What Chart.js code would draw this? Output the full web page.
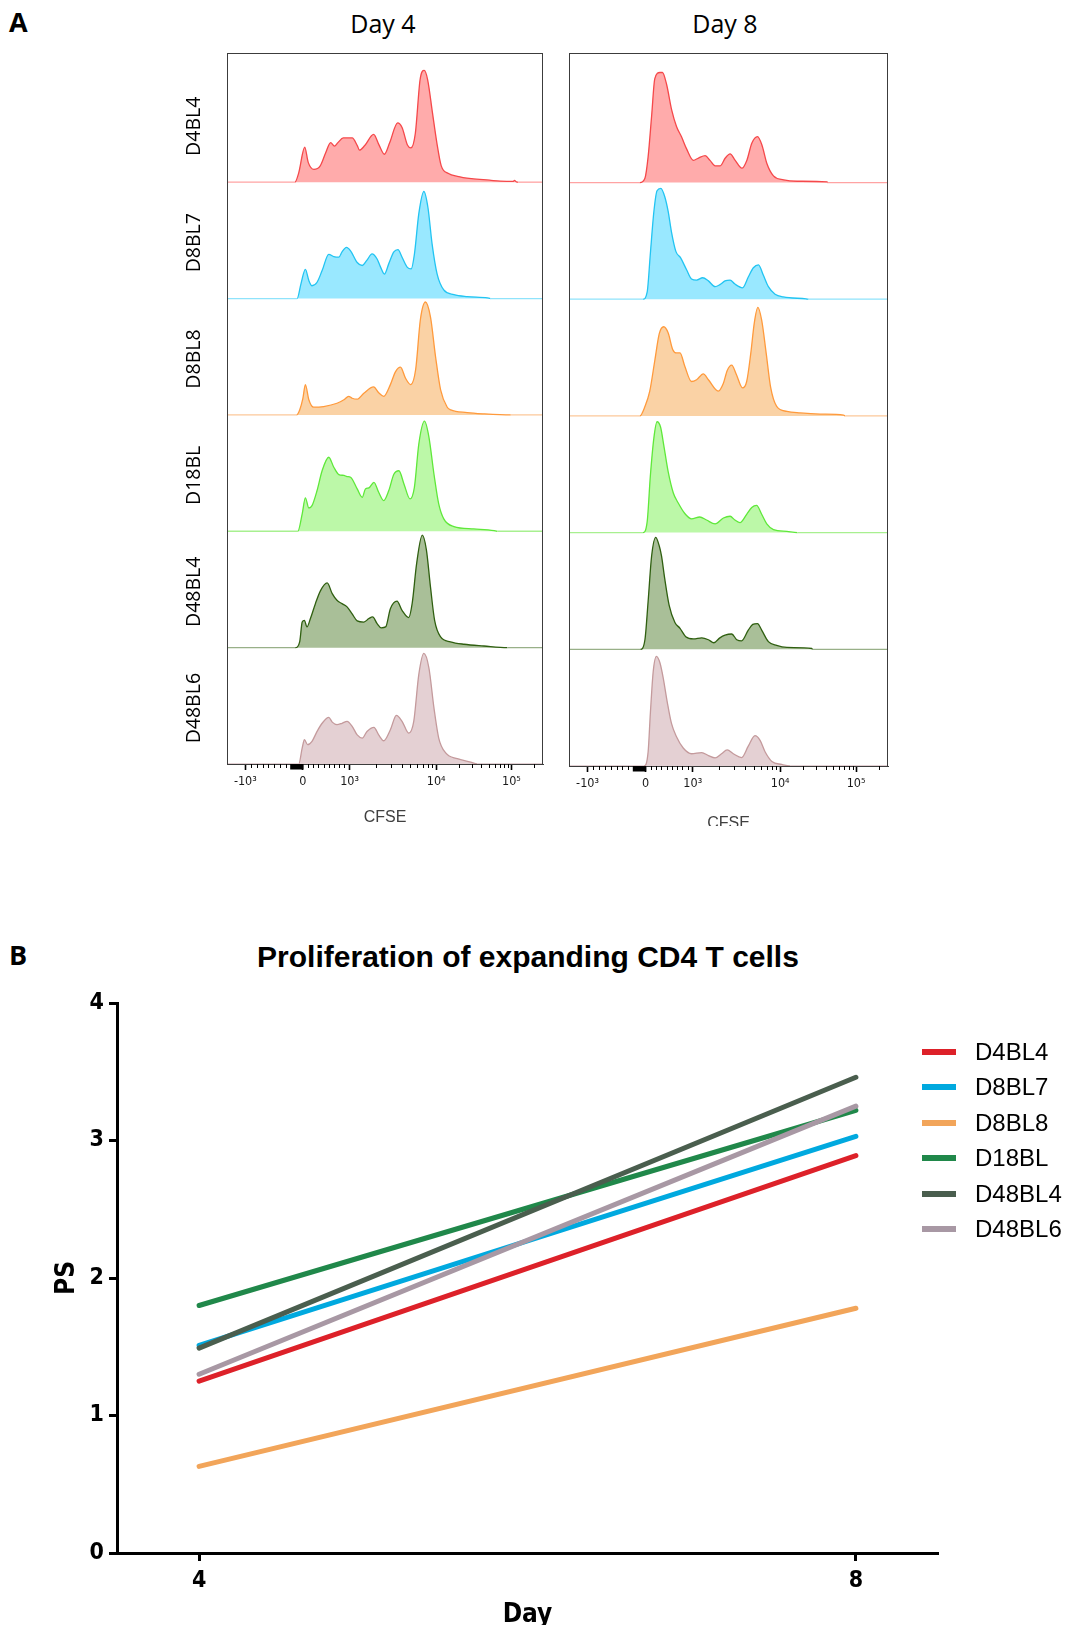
<!DOCTYPE html>
<html>
<head>
<meta charset="utf-8">
<title>CFSE proliferation of expanding CD4 T cells</title>
<script src="https://cdn.jsdelivr.net/npm/chart.js@4.4.1/dist/chart.umd.min.js"></script>
<style>
  html, body { margin:0; padding:0; background:#ffffff; }
  body { width:1069px; height:1625px; position:relative; overflow:hidden; }
  .abs { position:absolute; }
  canvas { display:block; }
  .panel-letter { font-family:'Open Sans','Noto Sans',sans-serif; font-weight:700; font-size:27px; line-height:30px; color:#000; }
  .day-head { font-family:'Open Sans','Noto Sans',sans-serif; font-size:25px; line-height:30px; color:#000; text-align:center; width:200px; }
  .titleB { font-family:'Liberation Sans',Arial,sans-serif; font-weight:700; font-size:30px; line-height:36px; color:#000; text-align:center; width:800px; white-space:nowrap; }
  .leg-item { position:absolute; height:30px; width:140px; font-family:'Liberation Sans',Arial,sans-serif; font-size:24px; line-height:30px; color:#000; white-space:nowrap; }
  .leg-sw { position:absolute; left:0; top:12px; width:34px; height:6px; }
  .leg-tx { position:absolute; left:53px; top:0; }
</style>
</head>
<body>
<div class="abs panel-letter" style="left:9px;top:7px;">A</div>
<div class="abs panel-letter" style="left:9px;top:940px;">B</div>
<div class="abs day-head" id="head0" style="left:283px;top:8px;"></div>
<div class="abs day-head" id="head1" style="left:625px;top:8px;"></div>

<div class="abs" style="left:170px;top:0px;width:390px;height:830px;"><canvas id="cA1" width="390" height="830"></canvas></div>
<div class="abs" style="left:560px;top:0px;width:340px;height:826px;overflow:hidden;"><canvas id="cA2" width="340" height="840"></canvas></div>

<div class="abs titleB" id="titleB" style="left:128px;top:939px;"></div>
<div class="abs" style="left:0px;top:930px;width:1056px;height:695px;"><canvas id="cB" width="1056" height="695"></canvas></div>
<div id="legendB"></div>

<script>
// ================= DATA =================
const rowNames = ['D4BL4', 'D8BL7', 'D8BL8', 'D18BL', 'D48BL4', 'D48BL6'];
const dayHeads = ['Day 4', 'Day 8'];

// CFSE axis (display channel 0..1000) tick positions and labels
const cfseTickVals = [58, 240, 388, 662, 900];
const cfseTickLabels = ['-10³', '0', '10³', '10⁴', '10⁵'];

// Histograms: [CFSE display channel, height in % of row]
const day4_D4BL4 = [[0,0],[215,0],[227,8],[246,30],[257,17],[275,11],[295,14],[312,25],[328,34],[340,31],[351,34],[368,38],[396,38],[413,31],[419,27.5],[436,31.5],[464,41],[481,32],[498,24],[515,34],[540,51],[554,47],[571,32],[582,29.5],[596,42],[611,88],[624,96],[635,88],[650,60],[664,34],[678,14],[701,7.5],[729,5],[774,3],[831,1.7],[865,0.9],[905,0.6],[910,1.5],[915,0.4],[921,0],[1000,0]];
const day4_D8BL7 = [[0,0],[222,0],[234,12.6],[248,25],[259,15.5],[269,11],[285,14],[301,24],[322,38],[338,36],[354,35.5],[364,40],[378,44],[391,41],[412,31],[428,28.4],[443,33],[459,38.4],[475,34],[486,27],[498,21],[512,30],[528,40],[541,42],[554,35.5],[570,27],[583,25.5],[593,38],[607,73],[623,92],[636,78],[649,47],[665,21],[686,7.4],[718,3.4],[760,1.7],[824,0.6],[834,0],[1000,0]];
const day4_D8BL8 = [[0,0],[220,0],[230,4.3],[240,14],[248,26],[259,13],[274,6.6],[306,7.2],[348,10],[370,13],[385,16],[396,14.3],[412,13.5],[433,18.6],[464,24],[480,19],[496,16],[517,26],[533,37],[549,41],[565,31.5],[581,26],[597,39],[612,82],[628,97],[644,84],[660,50],[676,21.5],[697,6.6],[708,4.3],[760,2],[813,0.9],[898,0],[1000,0]];
const day4_D18BL = [[0,0],[224,0],[238,15],[248,28.7],[259,20],[269,22],[285,35],[301,52],[322,63.6],[338,55],[354,48.7],[370,48],[380,47],[391,46.4],[412,36.4],[428,29.2],[438,36.4],[449,37.2],[465,42],[480,33.5],[496,26.4],[512,35],[528,49],[544,52],[560,40.7],[579,27.8],[593,37.8],[607,75],[625,94.6],[639,81],[655,49],[670,23.5],[686,10.6],[718,4],[781,2],[845,0.6],[855,0],[1000,0]];
const day4_D48BL4 = [[0,0],[216,0],[230,5],[238,22],[245,23.5],[253,17.8],[264,25],[280,38],[296,49],[317,55.6],[333,46.4],[348,40.7],[364,37.8],[380,35],[396,29],[412,23],[433,22],[449,25],[461,26.4],[475,20.6],[488,17],[502,17.8],[517,33.5],[538,40],[554,32],[575,25.8],[586,38],[600,72],[618,96.6],[631,84],[644,52],[657,23.5],[676,9.2],[707,5],[750,2.9],[813,1.4],[887,0],[1000,0]];
const day4_D48BL6 = [[0,0],[227,0],[238,13.8],[245,21],[255,16.6],[269,19.5],[285,28],[301,35],[322,40],[333,36],[348,33.8],[364,35],[380,36.7],[396,32.4],[412,25],[428,22.3],[443,28],[465,31.5],[480,25],[496,20],[517,29.5],[536,41.8],[554,36.7],[575,26.6],[591,36.7],[607,77],[623,95],[639,82.5],[655,48],[670,22.3],[692,9.5],[729,4.6],[771,1.7],[792,0],[1000,0]];

const day8_D4BL4 = [[0,0],[222,0],[238,3.7],[248,22],[259,57],[269,89],[285,94.3],[293,94.3],[306,84],[322,62],[337,48],[353,39],[369,28.6],[390,19],[406,21],[427,23],[442,19],[458,14.3],[474,14.3],[490,21],[505,24.6],[521,19],[542,12.3],[558,19.4],[573,33.7],[591,39.4],[605,32],[620,16.6],[641,5.7],[673,2.3],[715,1.1],[809,0.6],[811,0],[1000,0]];
const day8_D8BL7 = [[0,0],[232,0],[245,6],[255,39],[266,75],[276,93],[288,95],[300,88],[311,75],[321,58],[335,41],[350,35.4],[369,25],[384,17.4],[400,16.4],[419,18.4],[437,15.7],[458,10.8],[473,12.5],[489,15.7],[505,16.4],[520,13],[544,9.8],[562,19],[578,27],[594,29.5],[609,20.7],[625,10.8],[646,4.3],[672,2],[743,0.3],[751,0],[1000,0]];
const day8_D8BL8 = [[0,0],[222,0],[238,8],[253,21],[269,47.5],[283,70.5],[297,76.4],[311,71],[325,57],[337,54],[348,54],[363,42.6],[384,29.5],[400,31],[421,36],[437,31],[468,21.3],[484,28],[496,39],[510,43.6],[524,36],[544,24],[557,29.5],[570,54],[581,80],[592,93],[604,82],[618,54],[632,24.6],[651,8.2],[683,3.9],[725,2.6],[787,1.6],[861,0.7],[866,0],[1000,0]];
const day8_D18BL = [[0,0],[232,0],[245,9.2],[255,48.5],[266,81],[276,95],[287,90.5],[297,75],[311,52],[327,34],[342,25.6],[363,16.4],[384,11.8],[410,13.4],[431,10.8],[458,7.5],[484,12.5],[505,14],[520,10.8],[536,8.5],[557,15.7],[573,21.6],[588,23.3],[604,15.7],[620,7.5],[641,2.6],[683,1],[716,0],[1000,0]];
const day8_D48BL4 = [[0,0],[224,0],[238,8.2],[248,41],[259,80],[272,96],[283,88.5],[290,80],[300,60.7],[314,37.7],[332,23],[348,18],[366,10.8],[390,8.9],[416,9.8],[437,8.2],[454,5.6],[473,9.8],[489,12.1],[510,13.1],[526,8.2],[541,7.2],[562,16.4],[576,21.3],[591,22],[604,16.4],[625,6.6],[651,3.3],[683,1.6],[761,0.7],[764,0],[1000,0]];
const day8_D48BL6 = [[0,0],[235,0],[248,12],[255,45],[264,81],[274,94],[285,88.5],[295,76],[308,54.8],[321,36.7],[337,25],[358,15.4],[384,10.5],[416,11.5],[437,8.9],[458,6.9],[478,10.5],[496,13.8],[515,10.5],[541,7.2],[562,17],[583,26],[599,22],[615,12],[636,3.9],[667,1.3],[693,0],[1000,0]];

// Panel B: proliferation score
const chartTitleB = 'Proliferation of expanding CD4 T cells';
const days = [4, 8];
const psTicks = [0, 1, 2, 3, 4];
const ps_D4BL4  = [1.25, 2.89];
const ps_D8BL7  = [1.51, 3.03];
const ps_D8BL8  = [0.63, 1.78];
const ps_D18BL  = [1.80, 3.22];
const ps_D48BL4 = [1.49, 3.46];
const ps_D48BL6 = [1.30, 3.25];

// ================= STYLE =================
const histLine = ['#f5484a', '#22c4f2', '#ff9a3c', '#5fe83a', '#2f5f10', '#c49a9c'];
const histFill = ['#ffabab', '#99e8ff', '#fad2a5', '#bcf8a8', '#a9bf98', '#e4d0d3'];
const histBase = ['#ffa3a3', '#8fe3fb', '#fcc89a', '#a8f090', '#98b088', '#d9c0c4'];
const psColors = ['#dd2129', '#00a9df', '#f2a55a', '#20884a', '#4a5e4e', '#a898a4'];
const NARROW = "'Liberation Sans Narrow', 'Arial Narrow', 'DejaVu Sans Condensed', sans-serif";
const ROW = 100;

const day4Hists = [day4_D4BL4, day4_D8BL7, day4_D8BL8, day4_D18BL, day4_D48BL4, day4_D48BL6];
const day8Hists = [day8_D4BL4, day8_D8BL7, day8_D8BL8, day8_D18BL, day8_D48BL4, day8_D48BL6];
const psSeries = [ps_D4BL4, ps_D8BL7, ps_D8BL8, ps_D18BL, ps_D48BL4, ps_D48BL6];

document.getElementById('head0').textContent = dayHeads[0];
document.getElementById('head1').textContent = dayHeads[1];
document.getElementById('titleB').textContent = chartTitleB;

// minor tick positions of the biexponential CFSE axis
function cfseMinorTicks() {
  const t = [];
  const [n3, z, p3, p4, p5] = cfseTickVals;
  for (let k = 1; k <= 8; k++) t.push(n3 + (z - n3) * k / 10);
  for (let k = 1; k <= 8; k++) t.push(z + (p3 - z) * k / 9);
  for (let m = 2; m <= 9; m++) {
    t.push(p3 + (p4 - p3) * Math.log10(m));
    t.push(p4 + (p5 - p4) * Math.log10(m));
  }
  t.push(p5 + (p5 - p4) * Math.log10(2));
  return t;
}
const cfseMinor = cfseMinorTicks();
const cfseZeroBand = [200, 242];

const boxPlugin = {
  id: 'box',
  afterDatasetsDraw(chart) {
    const { left, top, right, bottom } = chart.chartArea;
    const c = chart.ctx;
    c.save();
    c.strokeStyle = '#3c3c3c';
    c.lineWidth = 1;
    c.strokeRect(Math.round(left) + 0.5, Math.round(top) + 0.5, Math.round(right - left) - 1, Math.round(bottom - top));
    c.restore();
  }
};

const minorTickPlugin = {
  id: 'minorTicks',
  afterDraw(chart) {
    const xs = chart.scales.x, ca = chart.chartArea, c = chart.ctx;
    c.save();
    c.strokeStyle = '#000';
    c.lineWidth = 1;
    cfseMinor.forEach(v => {
      const px = Math.round(xs.getPixelForValue(v)) + 0.5;
      c.beginPath();
      c.moveTo(px, ca.bottom);
      c.lineTo(px, ca.bottom + 4);
      c.stroke();
    });
    const a = xs.getPixelForValue(cfseZeroBand[0]);
    const b = xs.getPixelForValue(cfseZeroBand[1]);
    c.fillStyle = '#000';
    c.fillRect(a, ca.bottom, b - a, 5.5);
    c.restore();
  }
};

const rowLabelPlugin = {
  id: 'rowLabels',
  afterDraw(chart) {
    const ys = chart.scales.y, ca = chart.chartArea, c = chart.ctx;
    c.save();
    c.fillStyle = '#000';
    c.font = "19.5px 'Open Sans', 'Noto Sans', sans-serif";
    c.textAlign = 'center';
    c.textBaseline = 'alphabetic';
    rowNames.forEach((n, i) => {
      const base = (rowNames.length - 1 - i) * ROW;
      const y = ys.getPixelForValue(base + 48);
      c.save();
      c.translate(ca.left - 27, y);
      c.rotate(-Math.PI / 2);
      c.fillText(n, 0, 0);
      c.restore();
    });
    c.restore();
  }
};

function makeHist(id, hists, cfg) {
  const datasets = hists.map((h, i) => {
    const base = (rowNames.length - 1 - i) * ROW;
    return {
      label: rowNames[i],
      data: h.map(p => ({ x: p[0], y: base + p[1] })),
      borderColor: histLine[i],
      backgroundColor: histFill[i],
      borderWidth: 1.3,
      pointRadius: 0,
      pointHoverRadius: 0,
      fill: { value: base },
      cubicInterpolationMode: 'monotone',
      segment: {
        borderColor: s => (s.p0.parsed.y === base && s.p1.parsed.y === base) ? histBase[i] : undefined
      }
    };
  });
  const plugins = [boxPlugin, minorTickPlugin];
  if (cfg.labels) plugins.push(rowLabelPlugin);
  return new Chart(document.getElementById(id), {
    type: 'line',
    data: { datasets },
    options: {
      responsive: false, animation: false, devicePixelRatio: 1,
      layout: { padding: cfg.padding },
      plugins: { legend: { display: false }, tooltip: { enabled: false }, title: { display: false } },
      scales: {
        x: {
          type: 'linear', min: 0, max: 1000,
          afterBuildTicks: sc => { sc.ticks = cfseTickVals.map(v => ({ value: v })); },
          afterFit: sc => { sc.height = cfg.xHeight; },
          grid: { display: true, drawOnChartArea: false, drawTicks: true, tickLength: 6, tickWidth: 1.6, tickColor: '#000' },
          border: { display: true, color: '#3c3c3c', width: 1 },
          ticks: {
            autoSkip: false, maxRotation: 0, minRotation: 0, padding: 4, color: '#1a1a1a',
            font: { family: NARROW, size: 12.5 },
            callback: v => cfseTickLabels[cfseTickVals.indexOf(v)]
          },
          title: {
            display: true, text: 'CFSE', color: '#404040',
            font: { family: "'Liberation Sans', Arial, sans-serif", size: 16 },
            padding: { top: 0, bottom: cfg.titleBottom }
          }
        },
        y: { display: false, min: 0, max: 611 }
      }
    },
    plugins
  });
}

makeHist('cA1', day4Hists, { padding: { left: 57, top: 53, right: 17, bottom: 0 }, xHeight: 66, titleBottom: 3, labels: true });
makeHist('cA2', day8Hists, { padding: { left: 9, top: 53, right: 12, bottom: 0 }, xHeight: 74, titleBottom: 6.5, labels: false });

// ---------- Panel B ----------
new Chart(document.getElementById('cB'), {
  type: 'line',
  data: {
    datasets: psSeries.map((s, i) => ({
      label: rowNames[i],
      data: days.map((d, j) => ({ x: d, y: s[j] })),
      borderColor: psColors[i],
      backgroundColor: psColors[i],
      borderWidth: 5,
      borderCapStyle: 'round',
      pointRadius: 0,
      pointHoverRadius: 0,
      fill: false,
      tension: 0,
      order: psSeries.length - 1 - i
    }))
  },
  options: {
    responsive: false, animation: false, devicePixelRatio: 1,
    layout: { padding: { left: 0, right: 118, top: 73, bottom: 0 } },
    plugins: { legend: { display: false }, tooltip: { enabled: false }, title: { display: false } },
    scales: {
      x: {
        type: 'linear', min: 3.5, max: 8.5,
        afterBuildTicks: sc => { sc.ticks = days.map(v => ({ value: v })); },
        afterFit: sc => { sc.height = 72; },
        grid: { display: true, drawOnChartArea: false, drawTicks: true, tickLength: 8, tickWidth: 3, tickColor: '#000' },
        border: { display: true, color: '#000', width: 3 },
        ticks: { color: '#000', padding: 6, autoSkip: false, maxRotation: 0, font: { family: NARROW, size: 23, weight: 'bold' } },
        title: { display: true, text: 'Day', color: '#000', font: { family: NARROW, size: 26, weight: 'bold' }, padding: { top: 0, bottom: -6 } }
      },
      y: {
        min: 0, max: 4,
        afterBuildTicks: sc => { sc.ticks = psTicks.map(v => ({ value: v })); },
        afterFit: sc => { sc.width = 117; },
        grid: { display: true, drawOnChartArea: false, drawTicks: true, tickLength: 8, tickWidth: 3, tickColor: '#000' },
        border: { display: true, color: '#000', width: 3 },
        ticks: { color: '#000', padding: 5, font: { family: NARROW, size: 23, weight: 'bold' } },
        title: { display: true, text: 'PS', color: '#000', font: { family: NARROW, size: 26, weight: 'bold' }, padding: { top: 52, bottom: 0 } }
      }
    }
  }
});

// HTML legend for panel B
const legendTop = 1052, legendStep = 35.4;
const legEl = document.getElementById('legendB');
rowNames.forEach((n, i) => {
  const item = document.createElement('div');
  item.className = 'leg-item';
  item.style.left = '922px';
  item.style.top = (legendTop + i * legendStep - 15) + 'px';
  const sw = document.createElement('div');
  sw.className = 'leg-sw';
  sw.style.background = psColors[i];
  const tx = document.createElement('div');
  tx.className = 'leg-tx';
  tx.textContent = n;
  item.appendChild(sw);
  item.appendChild(tx);
  legEl.appendChild(item);
});
</script>
</body>
</html>
